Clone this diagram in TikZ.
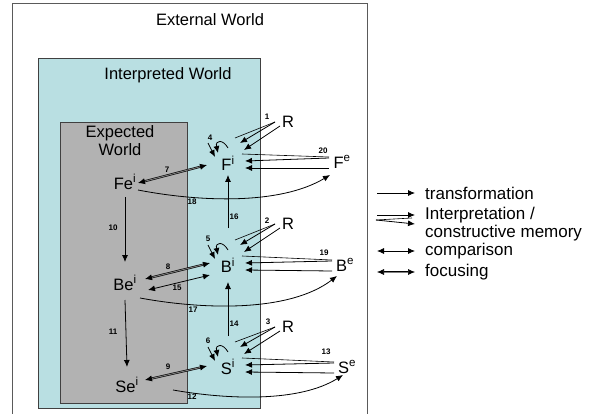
\documentclass[tikz,border=0pt]{standalone}
\usepackage{fontspec}
\setmainfont{Liberation Sans}
\usetikzlibrary{arrows.meta,calc,positioning}
\definecolor{interpbg}{HTML}{B9DFE2}
\definecolor{expectbg}{HTML}{B2B2B2}
\definecolor{framegray}{HTML}{5A5A5A}

\tikzset{
  lbl/.style={font=\fontsize{16.5}{18}\selectfont, inner sep=1pt},
  leg/.style={font=\fontsize{17}{18}\selectfont, inner sep=1pt},
  num/.style={font=\fontsize{8}{8}\selectfont\bfseries, inner sep=0pt},
  trans/.style={line width=0.8pt, -{Latex[length=7pt,width=6pt]}},
  cmp/.style={line width=0.8pt, {Latex[length=7pt,width=6pt]}-{Latex[length=7pt,width=6pt]}},
  focus/.style={double=gray, double distance=0.9pt, line width=0.6pt,
    {Latex[length=7pt,width=6pt]}-{Latex[length=7pt,width=6pt]}},
  thinline/.style={line width=0.6pt},
}

\begin{document}
\begin{tikzpicture}[x=1pt, y=-1pt]
  \useasboundingbox (0,0) rectangle (591,414);
  % the three worlds
  \draw[framegray, line width=0.8pt] (12,420) -- (12,3) -- (367,3) -- (367,420);
  \filldraw[fill=interpbg, draw=black!75, line width=0.8pt] (38,58) rectangle (260,408);
  \filldraw[fill=expectbg, draw=black!75, line width=0.8pt] (60,122) rectangle (187,403);
  \node[lbl] (extw) at (210,20) {External World};
  \node[lbl] (intw) at (168,75) {Interpreted World};
  \node[lbl, align=center] (expw) at (120,141) {Expected\\World};

  % states
  \node[lbl] (Fe) at (125,182) {Fe\textsuperscript{i}};
  \node[lbl] (Be) at (125,283) {Be\textsuperscript{i}};
  \node[lbl] (Se) at (127,385) {Se\textsuperscript{i}};
  \node[lbl] (Fi) at (228,163) {F\textsuperscript{i}};
  \node[lbl] (Bi) at (228,265) {B\textsuperscript{i}};
  \node[lbl] (Si) at (228,367) {S\textsuperscript{i}};
  \node[lbl] (R1) at (288,122) {R};
  \node[lbl] (R2) at (288,224) {R};
  \node[lbl] (R3) at (288,327) {R};
  \node[lbl] (Fx) at (342,162) {F\textsuperscript{e}};
  \node[lbl] (Bx) at (345,265) {B\textsuperscript{e}};
  \node[lbl] (Sx) at (347,367) {S\textsuperscript{e}};

  % transformation
  \draw[trans] ($(Fe)+(0,15)$) -- ($(Be)+(0,-21)$);
  \draw[trans] ($(Be)+(0,17)$) -- ($(Se)+(0,-18)$);
  \draw[trans] ($(Bi)+(0,-37)$) -- ($(Fi)+(0,12)$);
  \draw[trans] ($(Si)+(0,-31)$) -- ($(Bi)+(0,17)$);
  \draw[trans] ($(Fe)+(13,8)$) .. controls (200,202) and (280,205) .. ($(Fx)+(-12,13)$);
  \draw[trans] ($(Be)+(15,15)$) .. controls (205,310) and (290,312) .. ($(Bx)+(-8,11)$);
  \draw[trans] ($(Se)+(46,5)$) .. controls (230,400) and (300,402) .. ($(Sx)+(-4,8)$);

  % focusing and comparison
  \draw[focus] ($(Fe)+(13,1)$) -- ($(Fi)+(-21,2)$);
  \draw[focus] ($(Be)+(20,-4)$) -- ($(Bi)+(-18,-2)$);
  \draw[focus] ($(Se)+(18,-5)$) -- ($(Si)+(-21,-1)$);
  \draw[cmp] ($(Be)+(23,7)$) -- ($(Bi)+(-18,10)$);

  % interpretation / constructive memory
  \foreach \r/\s/\x in {R1/Fi/Fx, R2/Bi/Bx, R3/Si/Sx} {
    \draw[thinline] ($(\r)+(-13,0)$) -- ($(\s)+(7,-25)$);
    \draw[trans] ($(\r)+(-13,0)$) -- ($(\s)+(12,-20)$);
    \draw[trans] ($(\r)+(-8,4)$) -- ($(\s)+(16,-13)$);
    \draw[thinline] ($(\x)+(-13,-5)$) -- ($(\s)+(14,-9)$);
    \draw[trans] ($(\x)+(-13,-4)$) -- ($(\s)+(17,-2)$);
    \draw[trans] ($(\x)+(-13,6)$) -- ($(\s)+(17,5)$);
    \draw[trans] ($(\s)+(0,-15)$) .. controls ($(\s)+(-5,-24)$) and ($(\s)+(-13,-23)$) .. ($(\s)+(-10,-10)$);
    \draw[trans] ($(\s)+(-20,-20)$) -- ($(\s)+(-13,-6)$);
  }

  % numbers
  \node[num] (n1) at (267,117) {1};
  \node[num] (n2) at (267,221) {2};
  \node[num] (n3) at (268,322) {3};
  \node[num] (n4) at (210,138) {4};
  \node[num] (n5) at (208,239) {5};
  \node[num] (n6) at (208,341) {6};
  \node[num] (n7) at (167,170) {7};
  \node[num] (n8) at (168,267) {8};
  \node[num] (n9) at (168,367) {9};
  \node[num] (n10) at (113,228) {10};
  \node[num] (n11) at (113,332) {11};
  \node[num] (n12) at (192,397) {12};
  \node[num] (n13) at (326,352) {13};
  \node[num] (n14) at (234,324) {14};
  \node[num] (n15) at (177,288) {15};
  \node[num] (n16) at (234,217) {16};
  \node[num] (n17) at (193,310) {17};
  \node[num] (n18) at (192,202) {18};
  \node[num] (n19) at (324,253) {19};
  \node[num] (n20) at (323,151) {20};

  % legend
  \node[leg, anchor=west] (ltrans) at (424,193) {transformation};
  \node[leg, anchor=west, align=left] (linterp) at (424,224) {Interpretation /\\constructive memory};
  \node[leg, anchor=west] (lcomp) at (424,251) {comparison};
  \node[leg, anchor=west] (lfocus) at (424,272) {focusing};
  \draw[trans] ($(ltrans.west)+(-47,0)$) -- ($(ltrans.west)+(-9,0)$);
  \draw[trans] ($(linterp.west)+(-47,-9)$) -- ($(linterp.west)+(-9,-9)$);
  \draw[thinline] ($(linterp.west)+(-48,-4)$) -- ($(linterp.west)+(-12,-6)$);
  \draw[trans] ($(linterp.west)+(-48,-4)$) -- ($(linterp.west)+(-9,0)$);
  \draw[cmp] ($(lcomp.west)+(-47,0)$) -- ($(lcomp.west)+(-9,0)$);
  \draw[focus] ($(lfocus.west)+(-47,0)$) -- ($(lfocus.west)+(-9,0)$);
\end{tikzpicture}
\end{document}
